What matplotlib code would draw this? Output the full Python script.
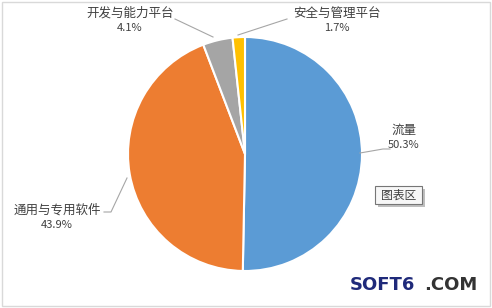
import matplotlib.pyplot as plt
from matplotlib.patches import Rectangle

plt.rcParams['font.family'] = ['Noto Sans CJK SC', 'DejaVu Sans']

# ── data ──────────────────────────────────────────────
labels = ["流量", "通用与专用软件", "开发与能力平台", "安全与管理平台"]
shares = [50.3, 43.9, 4.1, 1.7]
colors = ["#5B9BD5", "#ED7D31", "#A5A5A5", "#FFC000"]

# label text positions (pixel coords, y up) and leader line points
label_pos = [(404, 178), (57, 98), (130, 295), (337, 295)]
leader = [
    [(360, 155), (383, 159), (390, 159)],
    [(127, 130), (111, 96), (104, 96)],
    [(213, 271), (175, 289)],
    [(238, 273), (287, 289)],
]

fig = plt.figure(figsize=(4.92, 3.08), dpi=100)
ax = fig.add_axes([0, 0, 1, 1])
ax.axis("off")

# chart border
ax.add_patch(Rectangle((2, 2.5), 488, 304, fill=False, ec="#D9D9D9", lw=1))

ax.pie(shares, colors=colors, startangle=90, counterclock=False,
       center=(245, 154), radius=117,
       wedgeprops=dict(edgecolor="white", linewidth=1.5))
ax.set_aspect("equal")
ax.set_xlim(0, 492)
ax.set_ylim(0, 308)

for lab, val, (x, y), pts in zip(labels, shares, label_pos, leader):
    ax.text(x, y, lab, ha="center", va="center", fontsize=9, color="#404040")
    ax.text(x, y - 15, f"{val}%", ha="center", va="center", fontsize=8, color="#404040")
    xs, ys = zip(*pts)
    ax.plot(xs, ys, color="#A6A6A6", lw=0.8)

# tooltip box
ax.add_patch(Rectangle((378, 101), 47, 18, fc="#BFBFBF", ec="none"))
ax.add_patch(Rectangle((375, 104), 47, 18, fc="#F7F7F7", ec="#767676", lw=0.8))
ax.text(398.5, 113, "图表区", ha="center", va="center", fontsize=8.5, color="#404040")

# watermark
ax.text(350, 23, "SOFT6", ha="left", va="center", fontsize=13, fontweight="bold",
        color="#1F2A7A", family="DejaVu Sans")
ax.text(424, 23, ".COM", ha="left", va="center", fontsize=13, fontweight="bold",
        color="#333333", family="DejaVu Sans")

fig.savefig("out.png", dpi=100)
